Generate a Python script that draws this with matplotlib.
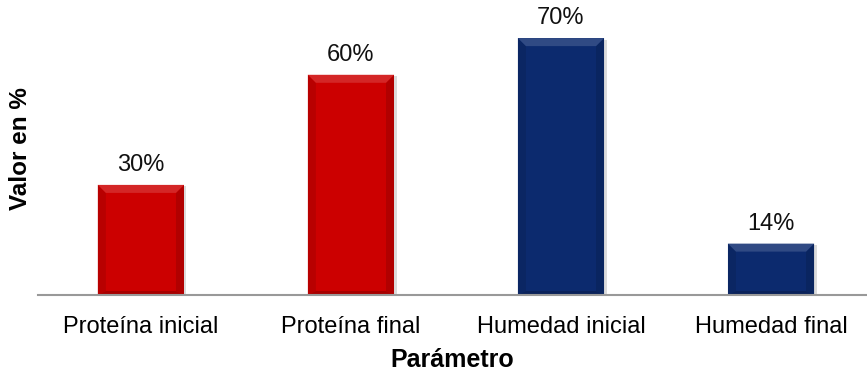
import numpy as np
import matplotlib
matplotlib.use('Agg')
import matplotlib.pyplot as plt
from matplotlib.patches import Polygon
from matplotlib.colors import to_rgb

plt.rcParams['font.family'] = ['Liberation Sans', 'DejaVu Sans']

categories = ['Proteína inicial', 'Proteína final', 'Humedad inicial', 'Humedad final']
values = [30, 60, 70, 14]
colors = ['#cc0000', '#cc0000', '#0c2a6e', '#0c2a6e']


def shade(c, f):
    r, g, b = to_rgb(c)
    if f > 1:
        return tuple(x + (1 - x) * (f - 1) for x in (r, g, b))
    return (r * f, g * f, b * f)


fig = plt.figure(figsize=(8.67, 3.74), dpi=100)
ax = fig.add_axes([38 / 867, 1 - 295 / 374, 829 / 867, 293.6 / 374])

x = np.arange(len(categories))
width = 0.41
bx = 8 / 210      # bevel size in data units (x)
by = 8 / 3.67     # bevel size in data units (y)

# soft shadow behind each bar
ax.bar(x + 0.012, values, width, bottom=-0.4, color='#b8b8b8', alpha=0.5, zorder=1)
ax.bar(x, values, width, color=colors, zorder=2)

for xi, v, c in zip(x, values, colors):
    l, r = xi - width / 2, xi + width / 2
    top = [(l, v), (r, v), (r - bx, v - by), (l + bx, v - by)]
    left = [(l, 0), (l, v), (l + bx, v - by), (l + bx, by * 0.5)]
    right = [(r, 0), (r, v), (r - bx, v - by), (r - bx, by * 0.5)]
    bottom = [(l, 0), (r, 0), (r - bx, by * 0.5), (l + bx, by * 0.5)]
    ax.add_patch(Polygon(left, closed=True, color=shade(c, 0.9), lw=0, zorder=3))
    ax.add_patch(Polygon(right, closed=True, color=shade(c, 0.87), lw=0, zorder=3))
    ax.add_patch(Polygon(bottom, closed=True, color=shade(c, 0.82), lw=0, zorder=3))
    ax.add_patch(Polygon(top, closed=True, color=shade(c, 1.15), lw=0, zorder=4))
    ax.text(xi, v + 2.4, f'{v}%', ha='center', va='bottom', fontsize=17, color='#111111')

ax.set_xlim(-0.49, 3.457)
ax.set_ylim(0, 80)
ax.set_xticks(x)
ax.set_xticklabels(categories, fontsize=17)
ax.tick_params(axis='x', length=0, pad=15)
ax.set_yticks([])
for s in ['top', 'right', 'left']:
    ax.spines[s].set_visible(False)
ax.spines['bottom'].set_color('#999999')
ax.spines['bottom'].set_linewidth(1.5)
ax.spines['bottom'].set_zorder(5)

ax.set_xlabel('Parámetro', fontsize=18, fontweight='bold', labelpad=7)
ax.set_ylabel('Valor en %', fontsize=17.5, fontweight='bold', labelpad=4)

fig.savefig('out.png', dpi=100)
